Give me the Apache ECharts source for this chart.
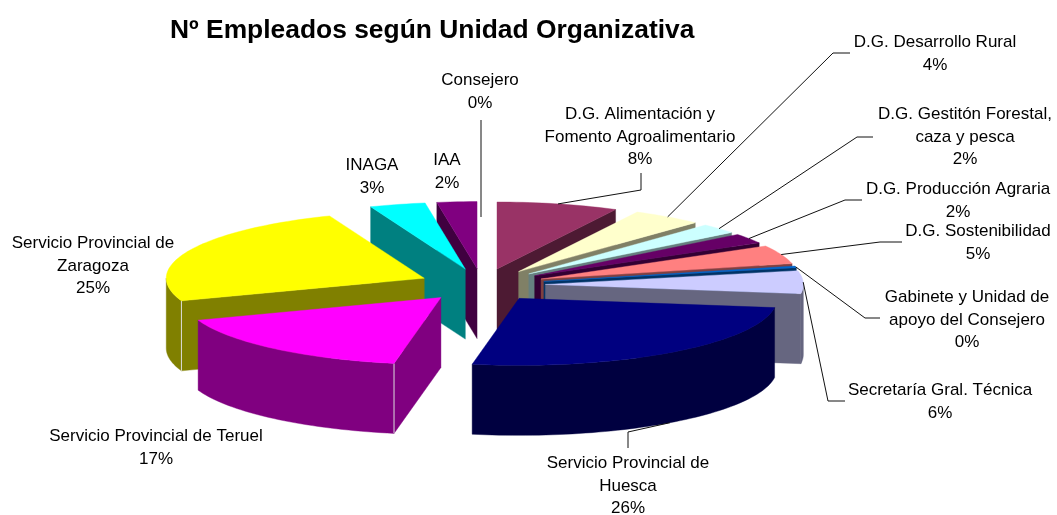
<!DOCTYPE html>
<html>
<head>
<meta charset="utf-8">
<style>html,body{margin:0;padding:0;background:#fff}#c{width:1057px;height:515px}</style>
<script src="https://cdn.jsdelivr.net/npm/echarts@6/dist/echarts.min.js"></script>
</head>
<body>
<div id="c"></div>
<script>
// ---- data (clockwise from 12 o'clock) ----
const categories = [
  'D.G. Alimentación y\nFomento Agroalimentario',
  'D.G. Desarrollo Rural',
  'D.G. Gestitón Forestal,\ncaza y pesca',
  'D.G. Producción Agraria',
  'D.G. Sostenibilidad',
  'Gabinete y Unidad de\napoyo del Consejero',
  'Secretaría Gral. Técnica',
  'Servicio Provincial de\nHuesca',
  'Servicio Provincial de Teruel',
  'Servicio Provincial de\nZaragoza',
  'INAGA',
  'IAA',
  'Consejero'
];
const shares = [7.6, 4.4, 2.4, 2.4, 4.5, 0.4, 5.5, 25.7, 16.6, 24.5, 3.49, 2.49, 0];
const topColors = ['#993366','#FFFFCC','#CCFFFF','#660066','#FF8080','#0066CC','#CCCCFF','#000080','#FF00FF','#FFFF00','#00FFFF','#800080','#9999FF'];
const sideColors = ['#4D1A33','#808066','#668080','#330033','#804040','#003366','#666680','#000040','#800080','#808000','#008080','#400040','#4D4D80'];

// ---- layout ----
const CX = 482, CY = 285, RX = 258, RY = 67, DEPTH = 70, EXPLODE = 0.2457;
const labelCenters = [[640,137],[935,54],[965,137],[958,201],[978,243],[967,320],[940,402],[628,486],[156,448],[93,266],[372,177],[447,172],[480,92]];
const leaderPaths = [
  [[641,190],[641,173]],
  [[833,53],[850,53]],
  [[857,137],[873,137]],
  [[845,200],[862,200]],
  [[880,242],[902,242]],
  [[865,318],[880,318]],
  [[828,401],[845,401]],
  [[628,432],[628,448]],
  null, null, null, null,
  [[481,120]]
];
const leaderTipOverride = {12: [481,217]};
const FONT = 'Liberation Sans';

// ---- geometry derived from the values ----
const total = shares.reduce((a,b)=>a+b,0);
const rad = d => d*Math.PI/180;
let acc = 0;
const sectors = shares.map(v => {
  const s = acc/total*360; acc += v; const e = acc/total*360;
  const m = (s+e)/2;
  return {s, e, m, ax: CX + EXPLODE*RX*Math.sin(rad(m)), ay: CY - EXPLODE*RY*Math.cos(rad(m))};
});
const paintOrder = sectors.map((s,i)=>i).sort((a,b)=>Math.cos(rad(sectors[b].m))-Math.cos(rad(sectors[a].m)));
const pt = (sec, a, d) => [sec.ax + RX*Math.sin(rad(a)), sec.ay - RY*Math.cos(rad(a)) + (d||0)];
const arc = (sec, a, b, d) => {
  const n = Math.max(1, Math.ceil((b-a)/1.5)), r = [];
  for (let k=0;k<=n;k++) r.push(pt(sec, a+(b-a)*k/n, d));
  return r;
};
function poly(points, color, z2){
  return {type:'polygon', shape:{points}, z2, silent:true,
    style:{fill:color, stroke:color, lineWidth:0.4}};
}
function renderSlice(params, api){
  const i = api.value(0), sec = sectors[i], rank = paintOrder.indexOf(i)*10 + 10;
  const children = [];
  const side = sideColors[i];
  if (shares[i] > 0) {
    const apex = [sec.ax, sec.ay], apexD = [sec.ax, sec.ay+DEPTH];
    if (Math.sin(rad(sec.s)) < 0)
      children.push(poly([apex, pt(sec,sec.s), pt(sec,sec.s,DEPTH), apexD], side, rank));
    if (Math.sin(rad(sec.e)) > 0)
      children.push(poly([apex, pt(sec,sec.e), pt(sec,sec.e,DEPTH), apexD], side, rank));
    const a = Math.max(sec.s, 90), b = Math.min(sec.e, 270);
    if (b > a)
      children.push(poly(arc(sec,a,b,0).concat(arc(sec,a,b,DEPTH).reverse()), side, rank+1));
    if (sec.s > 180 && sec.s < 270) {
      const p = pt(sec,sec.s), q = pt(sec,sec.s,DEPTH);
      children.push({type:'line', z2:rank+2, silent:true,
        shape:{x1:p[0],y1:p[1],x2:q[0],y2:q[1]}, style:{stroke:'#DDDDDD',lineWidth:1}});
    }
    children.push(poly([apex].concat(arc(sec,sec.s,sec.e,0)), topColors[i], rank+3));
  }
  if (leaderPaths[i]) {
    const tip = leaderTipOverride[i] || pt(sec, sec.m, Math.cos(rad(sec.m))<0 ? DEPTH : 0);
    children.push({type:'polyline', z2:500, silent:true,
      shape:{points:[tip].concat(leaderPaths[i])}, style:{stroke:'#111',lineWidth:1,fill:null}});
  }
  const c = labelCenters[i];
  children.push({type:'text', z2:600, silent:true, x:c[0], y:c[1],
    style:{text: api.value(2) + '\n' + Math.round(shares[i]) + '%', align:'center', verticalAlign:'middle',
      fontFamily:FONT, fontSize:17, lineHeight:22.7, fill:'#000'}});
  return {type:'group', children};
}
const chart = echarts.init(document.getElementById('c'), null, {renderer:'canvas'});
chart.setOption({
  animation:false,
  backgroundColor:'#fff',
  title:{text:'Nº Empleados según Unidad Organizativa', left:165, top:13,
    textStyle:{fontFamily:FONT, fontSize:26.4, fontWeight:'bold', color:'#000'}},
  series:[{
    type:'custom', coordinateSystem:'none', silent:true,
    renderItem:renderSlice,
    encode:{},
    data: paintOrder.map(i => [i, shares[i], categories[i]]),
    dimensions:[{name:'i',type:'number'},{name:'v',type:'number'},{name:'name',type:'ordinal'}]
  }]
});
</script>
</body>
</html>
